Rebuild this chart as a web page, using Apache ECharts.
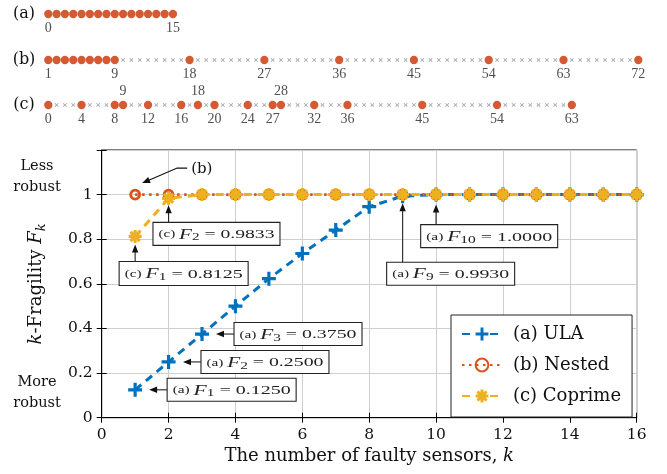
<!DOCTYPE html>
<html><head><meta charset="utf-8">
<script src="https://cdn.jsdelivr.net/npm/echarts@6/dist/echarts.min.js"></script>
<style>html,body{margin:0;padding:0;background:#fff}#c{width:667px;height:474px}</style>
</head><body><div id="c"></div>
<script>
// ---------------- data ----------------
const kValues = [1,2,3,4,5,6,7,8,9,10,11,12,13,14,15,16];
const ulaF     = [0.125,0.25,0.375,0.5,0.623,0.736,0.841,0.946,0.993,1,1,1,1,1,1,1];
const nestedF  = [1,1,1,1,1,1,1,1,1,1,1,1,1,1,1,1];
const coprimeF = [0.8125,0.9833,1,1,1,1,1,1,1,1,1,1,1,1,1,1];
const seriesNames = ['(a) ULA','(b) Nested','(c) Coprime'];
const xTickLabels = ['0','2','4','6','8','10','12','14','16'];
const yTickLabels = ['0','0.2','0.4','0.6','0.8','1'];

const rowA_span = [0,15];
const rowA_sensors = [0,1,2,3,4,5,6,7,8,9,10,11,12,13,14,15];
const rowA_labels = [0,15];
const rowB_span = [1,72];
const rowB_sensors = [1,2,3,4,5,6,7,8,9,18,27,36,45,54,63,72];
const rowB_labels = [1,9,18,27,36,45,54,63,72];
const rowC_span = [0,63];
const rowC_sensors = [0,4,8,9,12,16,18,20,24,27,28,32,36,45,54,63];
const rowC_labelsBelow = [0,4,8,12,16,20,24,27,32,36,45,54,63];
const rowC_labelsAbove = [9,18,28];
const rowNames = ['(a)','(b)','(c)'];

// annotations: point (k, value) and text
const annotations = [
  {k:2, v:0.9833, tag:'(c)', sub:'2',  val:'0.9833'},
  {k:1, v:0.8125, tag:'(c)', sub:'1',  val:'0.8125'},
  {k:3, v:0.375,  tag:'(a)', sub:'3',  val:'0.3750'},
  {k:2, v:0.25,   tag:'(a)', sub:'2',  val:'0.2500'},
  {k:1, v:0.125,  tag:'(a)', sub:'1',  val:'0.1250'},
  {k:9, v:0.993,  tag:'(a)', sub:'9',  val:'0.9930'},
  {k:10,v:1.0,    tag:'(a)', sub:'10', val:'1.0000'}
];
const nestedNote = {k:1, v:1, text:'(b)'};

// ---------------- styles / layout ----------------
const SERIF = 'Liberation Serif';
const WIDE = 'DejaVu Serif';
const BLUE = '#0072BD', ORANGE = '#D95319', YELLOW = '#EDB120', DOT = '#C93100';
const annLayout = [
  {dir:'up',   tip:7,  boxTop:24, boxLeft:-15.6, w:127, h:23},
  {dir:'up',   tip:8,  boxTop:25, boxLeft:-16,   w:129, h:24},
  {dir:'left', tip:14, boxLeft:32, w:128, h:23},
  {dir:'left', tip:14.4, boxLeft:32.4, w:128, h:23},
  {dir:'left', tip:14, boxLeft:32, w:129, h:23},
  {dir:'up',   tip:7,  boxTop:66, boxLeft:-16, w:128, h:23},
  {dir:'up',   tip:10, boxTop:30, boxLeft:-15.4, w:137, h:23}
];

function plusPath(L, w){
  const a=(L-w)/2, b=(L+w)/2;
  return `path://M${a},0H${b}V${a}H${L}V${b}H${b}V${L}H${a}V${b}H0V${a}H${a}Z`;
}
function starPath(L, w){
  let d='';
  [0,45,90,135].forEach(deg=>{
    const t=deg*Math.PI/180, ux=Math.cos(t), uy=Math.sin(t), vx=-uy, vy=ux;
    const pts=[[ L/2*ux + w/2*vx,  L/2*uy + w/2*vy],
               [ L/2*ux - w/2*vx,  L/2*uy - w/2*vy],
               [-L/2*ux - w/2*vx, -L/2*uy - w/2*vy],
               [-L/2*ux + w/2*vx, -L/2*uy + w/2*vy]];
    d += 'M'+pts.map(p=>(p[0]+L/2).toFixed(2)+','+(p[1]+L/2).toFixed(2)).join('L')+'Z';
  });
  return 'path://'+d;
}
const PLUS = plusPath(14,3.2);
const STAR = starPath(14,3.4);
const XMARK = plusPath(10,1.8);

function holes(span, sensors){
  const out=[];
  for(let p=span[0];p<=span[1];p++) if(sensors.indexOf(p)<0) out.push(p);
  return out;
}

const chart = echarts.init(document.getElementById('c'), null, {renderer:'canvas'});

const rowTops = [14, 60, 105];
const rowSpans = [rowA_span, rowB_span, rowC_span];
const rowMin = [0, 1, 0];
const grids = [{left:101.7, top:150, right:30.3, bottom:56.3, show:true, borderColor:'#000', borderWidth:1, backgroundColor:'transparent'}];
const xAxes = [
  {type:'value', gridIndex:0, min:0, max:16, interval:2, position:'bottom',
   axisLine:{lineStyle:{color:'#000', width:1}},
   axisTick:{inside:true, length:5, lineStyle:{color:'#000'}},
   axisLabel:{color:'#111', fontFamily:WIDE, fontSize:15.5, margin:9,
              formatter:(v)=>xTickLabels[Math.round(v/2)]},
   splitLine:{show:true, lineStyle:{color:'#cfcfcf', width:1}},
   name:'The number of faulty sensors, {i|k}', nameLocation:'middle', nameGap:30,
   nameTextStyle:{color:'#111', fontFamily:WIDE, fontSize:18, rich:{i:{fontFamily:WIDE, fontStyle:'italic', fontSize:18}}}},
  {type:'value', gridIndex:0, min:0, max:16, interval:2, position:'top',
   axisLine:{show:false}, axisTick:{inside:true, length:5, lineStyle:{color:'#000'}},
   axisLabel:{show:false}, splitLine:{show:false}}
];
const yAxes = [
  {type:'value', gridIndex:0, min:0, max:1.2, interval:0.2, position:'left',
   axisLine:{lineStyle:{color:'#000', width:1}},
   axisTick:{inside:true, length:5, lineStyle:{color:'#000'}},
   axisLabel:{color:'#111', fontFamily:WIDE, fontSize:15.5, margin:9,
              formatter:(v)=>{const i=Math.round(v/0.2); return i<yTickLabels.length? yTickLabels[i] : '';}},
   splitLine:{show:true, lineStyle:{color:'#cfcfcf', width:1}},
   name:'{i|k}-Fragility {i|F}{s|k}', nameLocation:'middle', nameGap:54,
   nameTextStyle:{color:'#111', fontFamily:WIDE, fontSize:18,
     rich:{i:{fontFamily:WIDE, fontStyle:'italic', fontSize:18}, s:{fontFamily:WIDE, fontStyle:'italic', fontSize:13, padding:[9,0,0,0]}}}},
  {type:'value', gridIndex:0, min:0, max:1.2, interval:0.2, position:'right',
   axisLine:{show:false}, axisTick:{inside:true, length:5, lineStyle:{color:'#000'}},
   axisLabel:{show:false}, splitLine:{show:false}}
];
const series = [];
rowTops.forEach((top,i)=>{
  grids.push({left:48.3, right:28.7, top:top-1, height:2});
  xAxes.push({type:'value', gridIndex:i+1, min:rowMin[i], max:rowMin[i]+71, show:false});
  yAxes.push({type:'value', gridIndex:i+1, min:-1, max:1, show:false});
});
const rowSensors = [rowA_sensors, rowB_sensors, rowC_sensors];
const rowLabelsBelow = [rowA_labels, rowB_labels, rowC_labelsBelow];
rowSensors.forEach((sens,i)=>{
  const h = holes(rowSpans[i], sens);
  series.push({type:'scatter', xAxisIndex:i+2, yAxisIndex:i+2, silent:true,
    symbol:XMARK, symbolRotate:45, symbolSize:4.8, itemStyle:{color:'#8a8a8a'},
    data:h.map(p=>[p,0])});
  series.push({type:'scatter', xAxisIndex:i+2, yAxisIndex:i+2, silent:true,
    symbol:'circle', symbolSize:8.3, itemStyle:{color:DOT},
    data:sens.map(p=>[p,0])});
  series.push({type:'scatter', xAxisIndex:i+2, yAxisIndex:i+2, silent:true,
    symbol:'circle', symbolSize:0,
    label:{show:true, position:'bottom', distance:7, color:'#222', fontFamily:SERIF, fontSize:14,
           formatter:(p)=>String(p.value[0])},
    data:rowLabelsBelow[i].map(p=>[p,0])});
});
series.push({type:'scatter', xAxisIndex:4, yAxisIndex:4, silent:true,
  symbol:'circle', symbolSize:0,
  label:{show:true, position:'top', distance:7, color:'#222', fontFamily:SERIF, fontSize:14,
         formatter:(p)=>String(p.value[0])},
  data:rowC_labelsAbove.map(p=>[p,0])});

// main series
series.push({type:'line', name:seriesNames[0], xAxisIndex:0, yAxisIndex:0,
  data:kValues.map((k,i)=>[k,ulaF[i]]),
  symbol:PLUS, symbolSize:14, itemStyle:{color:BLUE},
  lineStyle:{color:BLUE, width:3, type:[8,6]}});
series.push({type:'line', name:seriesNames[1], xAxisIndex:0, yAxisIndex:0,
  data:kValues.map((k,i)=>[k,nestedF[i]]),
  symbol:'circle', symbolSize:9, itemStyle:{color:'rgba(255,255,255,0)', borderColor:ORANGE, borderWidth:2.8},
  lineStyle:{color:ORANGE, width:2.6, type:[2.5,4.5]}});
series.push({type:'line', name:seriesNames[2], xAxisIndex:0, yAxisIndex:0,
  data:kValues.map((k,i)=>[k,coprimeF[i]]),
  symbol:STAR, symbolSize:13, itemStyle:{color:YELLOW},
  lineStyle:{color:YELLOW, width:3, type:[8,6]}});

chart.setOption({
  animation:false,
  backgroundColor:'#fff',
  textStyle:{fontFamily:SERIF},
  grid:grids, xAxis:xAxes, yAxis:yAxes, series:series,
  legend:{data:seriesNames, orient:'vertical', left:451, top:315,
    itemWidth:40, itemHeight:16, itemGap:13,
    padding:[10,11,12,10], borderColor:'#222', borderWidth:1, backgroundColor:'#fff',
    textStyle:{color:'#111', fontFamily:WIDE, fontSize:18, padding:[0,0,0,6]}}
});

// ---------- annotations (positions derived from data via the axes) ----------
const g = [];
const mctx = document.createElement('canvas').getContext('2d');
function tw(font, s){ mctx.font = font; return mctx.measureText(s).width; }
function arrowHead(tx,ty,dx,dy){
  const L=8, W=3.2, bx=tx-dx*L, by=ty-dy*L;
  return {type:'polygon', z:100, shape:{points:[[tx,ty],[bx-dy*W,by+dx*W],[bx+dy*W,by-dx*W]]}, style:{fill:'#111'}};
}
const annFonts = {t:`10px "${SERIF}"`, f:`italic 14px "${SERIF}"`, s:`10px "${SERIF}"`, n:`13px "${SERIF}"`};
const annRich = {
  t:{fontFamily:SERIF, fontSize:10, fill:'#222'},
  f:{fontFamily:SERIF, fontStyle:'italic', fontSize:14, fill:'#222'},
  s:{fontFamily:SERIF, fontSize:10, fill:'#222', padding:[6,0,0,0]},
  n:{fontFamily:SERIF, fontSize:13, fill:'#222'}
};
annotations.forEach((a,i)=>{
  const L = annLayout[i];
  const [px,py] = chart.convertToPixel({gridIndex:0}, [a.k, a.v]);
  let bx,by,ax1,ay1,ax2,ay2,dx,dy;
  if(L.dir==='up'){
    bx = px + L.boxLeft; by = py + L.boxTop;
    ax1=px; ay1=by; ax2=px; ay2=py+L.tip; dx=0; dy=-1;
  } else {
    bx = px + L.boxLeft; by = py - L.h/2;
    ax1=bx; ay1=py; ax2=px+L.tip; ay2=py; dx=-1; dy=0;
  }
  const natural = tw(annFonts.t, a.tag+' ') + tw(annFonts.f,'F') + tw(annFonts.s,a.sub) + tw(annFonts.n,' = '+a.val);
  const sx = (L.w - 11) / natural;
  g.push({type:'line', z:100, shape:{x1:ax1,y1:ay1,x2:ax2-dx*6,y2:ay2-dy*6}, style:{stroke:'#222', lineWidth:1.1}});
  g.push(arrowHead(ax2,ay2,dx,dy));
  g.push({type:'rect', z:100, shape:{x:bx,y:by,width:L.w,height:L.h}, style:{fill:'#fff', stroke:'#222', lineWidth:1.1}});
  g.push({type:'text', z:101, x:bx+L.w/2, y:by+L.h/2+1, scaleX:sx,
    style:{text:`{t|${a.tag} }{f|F}{s|${a.sub}}{n| = ${a.val}}`, rich:annRich, align:'center', verticalAlign:'middle'}});
});
// (b) note
(function(){
  const [px,py] = chart.convertToPixel({gridIndex:0}, [nestedNote.k, nestedNote.v]);
  const tip=[px+7, py-11.5], corner=[px+42, py-26.5], end=[px+52, py-26.5];
  const len=Math.hypot(tip[0]-corner[0], tip[1]-corner[1]);
  const dx=(tip[0]-corner[0])/len, dy=(tip[1]-corner[1])/len;
  g.push({type:'polyline', z:100, shape:{points:[end, corner, [tip[0]-dx*6, tip[1]-dy*6]]}, style:{stroke:'#111', lineWidth:1.1, fill:null}});
  g.push(arrowHead(tip[0],tip[1],dx,dy));
  g.push({type:'text', z:101, x:end[0]+4, y:end[1]+1, style:{text:nestedNote.text, font:`15px "${WIDE}"`, fill:'#111', align:'left', verticalAlign:'middle'}});
})();
// robustness side labels
g.push({type:'text', z:101, x:37, y:177, style:{text:'Less\nrobust', font:`14.5px "${WIDE}"`, lineHeight:21, fill:'#111', align:'center', verticalAlign:'middle'}});
g.push({type:'text', z:101, x:37, y:393, style:{text:'More\nrobust', font:`14.5px "${WIDE}"`, lineHeight:21, fill:'#111', align:'center', verticalAlign:'middle'}});
// row names
rowTops.forEach((t,i)=>{
  g.push({type:'text', z:101, x:24, y:t, style:{text:rowNames[i], font:`16px "${WIDE}"`, fill:'#111', align:'center', verticalAlign:'middle'}});
});
chart.setOption({graphic:g});
</script>
</body></html>
